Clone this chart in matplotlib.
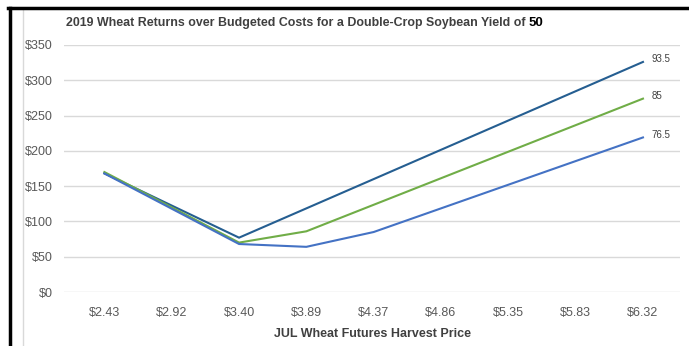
import matplotlib.pyplot as plt
from matplotlib.lines import Line2D

plt.rcParams['font.family'] = ['Liberation Sans', 'DejaVu Sans']

prices = ["$2.43", "$2.92", "$3.40", "$3.89", "$4.37", "$4.86", "$5.35", "$5.83", "$6.32"]
yield_labels = ["93.5", "85", "76.5"]
ret_935 = [168, 122.5, 77, 118.5, 160, 201.5, 243, 284.5, 326]
ret_85 = [170, 120, 70, 86, 123.6, 161.2, 198.8, 236.4, 274]
ret_765 = [168, 118, 68, 64, 85, 118.5, 152, 185.5, 219]
yticks = [0, 50, 100, 150, 200, 250, 300, 350]

colors = ["#255E91", "#70AD47", "#4472C4"]

fig = plt.figure(figsize=(6.89, 3.46), dpi=100)
ax = fig.add_axes([64 / 689, 1 - 292 / 346, (680 - 64) / 689, (292 - 45) / 346])

x = list(range(len(prices)))
for series, lab, c in zip([ret_935, ret_85, ret_765], yield_labels, colors):
    ax.plot(x, series, color=c, linewidth=1.5, solid_joinstyle='miter')
    ax.annotate(lab, (x[-1], series[-1]), xytext=(6, 2), textcoords='offset points',
                fontsize=7, color='#404040', va='center', ha='left')

ax.set_xlim(-0.6, 8.55)
ax.set_ylim(0, 350)
ax.set_yticks(yticks)
ax.set_yticklabels(["${}".format(v) for v in yticks])
ax.set_xticks(x)
ax.set_xticklabels(prices)
ax.yaxis.grid(True, color='#D9D9D9', linewidth=1)
ax.set_axisbelow(True)
for s in ax.spines.values():
    s.set_visible(False)
ax.tick_params(length=0, colors='#595959', labelsize=9)
ax.tick_params(axis='y', pad=8)
ax.tick_params(axis='x', pad=11)
ax.set_xlabel("JUL Wheat Futures Harvest Price", fontsize=9, fontweight='bold',
              color='#404040', labelpad=6)

fig.text(66 / 689, 1 - 26 / 346, "2019 Wheat Returns over Budgeted Costs for a Double-Crop Soybean Yield of",
         fontsize=8.9, fontweight='bold', color='#404040', va='baseline', ha='left')
fig.text(529 / 689, 1 - 26 / 346, "50", fontsize=9.5, fontweight='bold', color='black',
         va='baseline', ha='left')

# frame lines
fig.add_artist(Line2D([23 / 689, 23 / 689], [0, 1 - 9 / 346], color='#D9D9D9', linewidth=1))
fig.add_artist(Line2D([9.5 / 689, 9.5 / 689], [0, 1 - 8 / 346], color='black', linewidth=2.5))
fig.add_artist(Line2D([8 / 689, 1], [1 - 8 / 346, 1 - 8 / 346], color='black', linewidth=2.5))

fig.savefig("out.png", dpi=100)
